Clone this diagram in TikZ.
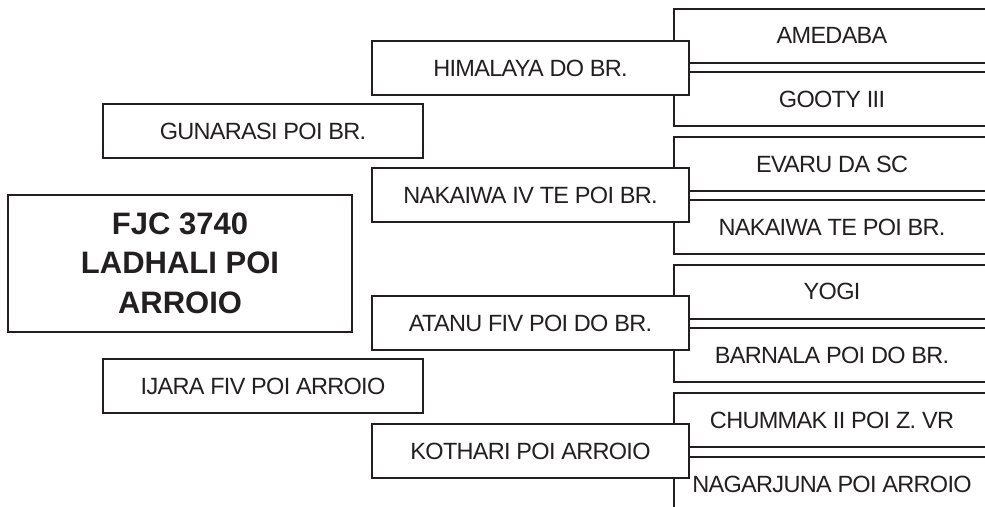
\documentclass[tikz,border=0pt]{standalone}
\usepackage{fontspec}
\setmainfont{Liberation Sans}
\newfontfamily\serre[LetterSpace=-3]{Liberation Sans}
\usepackage{tikz}
\usetikzlibrary{positioning}
\definecolor{trait}{RGB}{35,31,32}

\begin{document}
\begin{tikzpicture}[x=1pt, y=-1pt,
	boite/.style={draw=trait, line width=2pt, fill=white, rectangle, inner sep=0pt,
		minimum width=317pt, minimum height=54pt, text=trait,
		font=\serre\fontsize{23.5}{28}\selectfont},
	titre/.style={boite, minimum width=344pt, minimum height=137pt, align=center,
		font=\fontsize{31}{39.5}\selectfont\bfseries}]
	% cadre de la page
	\path[use as bounding box, fill=white] (0,0) rectangle (985,506);
	\clip (0,0) rectangle (985,506);
	% grands-parents (colonne de droite, coupee au bord)
	\node[boite] (ame) at (832,35.5) {AMEDABA};
	\node[boite] (goo) at (832,99) {GOOTY III};
	\node[boite] (eva) at (832,164) {EVARU DA SC};
	\node[boite] (nte) at (832,227) {NAKAIWA TE POI BR.};
	\node[boite] (yog) at (832,291.5) {YOGI};
	\node[boite] (bar) at (832,355) {BARNALA POI DO BR.};
	\node[boite] (chu) at (832,420) {CHUMMAK II POI Z. VR};
	\node[boite] (nag) at (832,484) {NAGARJUNA POI ARROIO};
	% parents
	\node[boite] (him) at (530.5,68) {HIMALAYA DO BR.};
	\node[boite] (nak) at (530.5,195) {NAKAIWA IV TE POI BR.};
	\node[boite] (ata) at (530.5,323) {ATANU FIV POI DO BR.};
	\node[boite] (kot) at (530.5,451) {KOTHARI POI ARROIO};
	% animal
	\node[boite, minimum width=320pt] (gun) at (263,131) {GUNARASI POI BR.};
	\node[boite, minimum width=320pt] (ija) at (263,386) {IJARA FIV POI ARROIO};
	\node[titre] (anim) at (180,263) {FJC 3740\\LADHALI POI\\ARROIO};
\end{tikzpicture}
\end{document}
